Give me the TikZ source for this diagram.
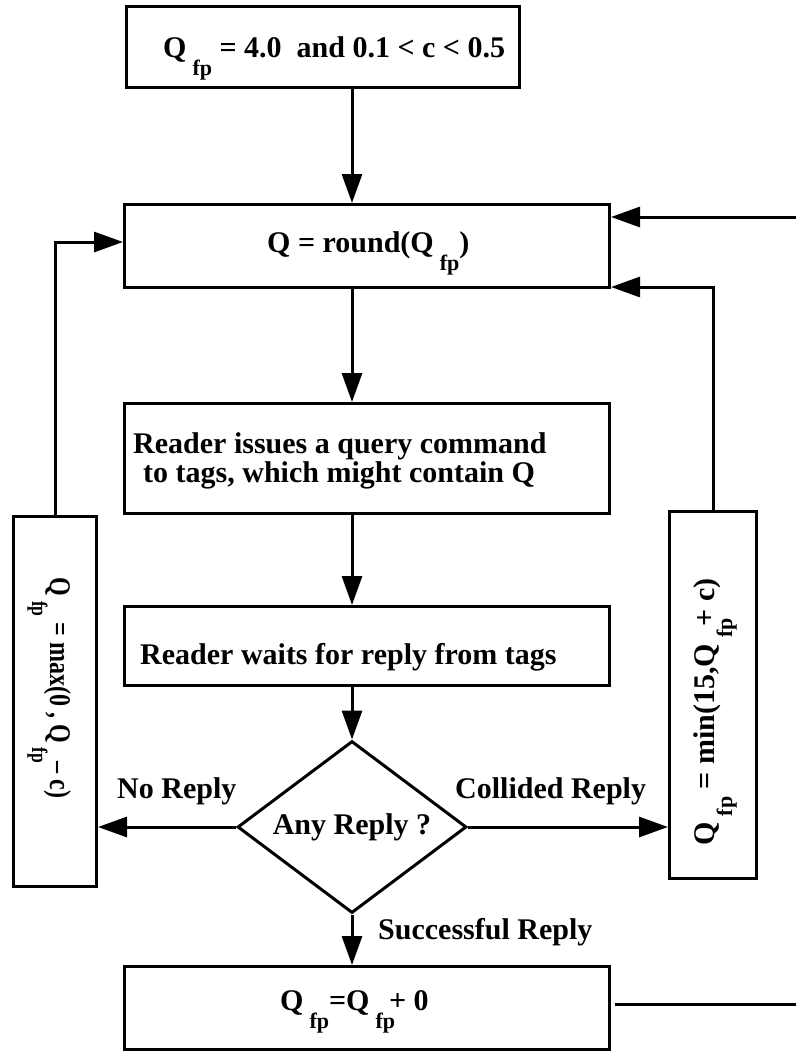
\documentclass[tikz,border=0pt]{standalone}
\usepackage{fontspec}
\setmainfont{Liberation Serif}
\usetikzlibrary{arrows.meta,shapes.geometric}
% lowered "fp" subscript
\newcommand\fpsub{\kern6pt\raisebox{-18pt}{\fontsize{22}{22}\selectfont fp}}
\begin{document}
\begin{tikzpicture}[x=1pt,y=-1pt,
  font=\fontsize{30}{30}\selectfont\bfseries,
  box/.style={draw,line width=3pt,inner sep=0pt},
  flow/.style={line width=3pt,-{Triangle[length=29pt,width=20pt]}},
  link/.style={line width=3pt},
  lab/.style={inner sep=0pt,anchor=base west}]
\useasboundingbox (0,0) rectangle (796,1053);

% process boxes
\node[box,minimum width=393pt,minimum height=81pt] (init)  at (323,47)    {};
\node[box,minimum width=485pt,minimum height=83pt] (round) at (367,246)   {};
\node[box,minimum width=485pt,minimum height=110pt] (query) at (367,458.5) {};
\node[box,minimum width=485pt,minimum height=79pt] (wait)  at (367,646)   {};
\node[box,minimum width=485pt,minimum height=83pt] (upd)   at (367,1008)  {};
\node[box,minimum width=83pt,minimum height=370pt] (lbox)  at (55,701.5)  {};
\node[box,minimum width=87pt,minimum height=367pt] (rbox)  at (713,695)   {};

% decision
\node[diamond,draw,line width=3pt,inner sep=0pt,aspect=1.33,
      minimum width=229pt,minimum height=172pt] (dec) at (352,827) {Any Reply ?};

% box texts
\node[lab] (t0) at (163,57)  {Q\fpsub{} = 4.0\ \ and 0.1 < c < 0.5};
\node[lab] (t1) at (267,252) {Q = round(Q\fpsub)};
\node[lab] (q1) at (133,453) {Reader issues a query command};
\node[lab] (q2) at (143,482) {to tags, which might contain Q};
\node[lab] (w1) at (140,664) {Reader waits for reply from tags};
\node[lab] (u1) at (280,1010) {Q\fpsub=Q\fpsub\kern-6pt+ 0};
\node[inner sep=0pt,anchor=base,rotate=-90] (lt) at (50,688)
  {\scalebox{0.8}[1]{Q\fpsub{} = max(0 , Q\fpsub\kern-2pt{}– c)}};
\node[inner sep=0pt,anchor=base,rotate=90] (rt) at (714,712)
  {Q\fpsub{} = min(15,Q\fpsub\kern-8pt{}+ c)};

% branch labels
\node[lab] (lno)  at (117,798) {No Reply};
\node[lab] (lcol) at (455,798) {Collided Reply};
\node[lab] (lsuc) at (378,939) {Successful Reply};

% connector end points
\coordinate (lin)   at ([yshift=4pt]round.west);
\coordinate (rinA)  at ([yshift=29pt]round.east);
\coordinate (rinB)  at ([yshift=-41pt]round.east);
\coordinate (edgeA) at (796,217);
\coordinate (outB)  at ([yshift=4pt]upd.east);
\coordinate (edgeB) at (796,1004);

% main flow
\draw[flow] (dec.north |- init.south)  -- (dec.north |- round.north);
\draw[flow] (dec.north |- round.south) -- (dec.north |- query.north);
\draw[flow] (dec.north |- query.south) -- (dec.north |- wait.north);
\draw[flow] (dec.north |- wait.south)  -- (dec.north);
\draw[flow] (dec.west)  -- (dec.west -| lbox.east);
\draw[flow] (dec.east)  -- (dec.east -| rbox.west);
\draw[flow] (dec.south) -- (dec.south |- upd.north);

% feedback paths
\draw[flow] (lbox.north) -- (lbox.north |- lin) -- (lin);
\draw[flow] (rbox.north) -- (rbox.north |- rinB) -- (rinB);
\draw[flow] (edgeA) -- (rinA);
\draw[link,shorten <=4pt] (outB) -- (edgeB);
\end{tikzpicture}
\end{document}
